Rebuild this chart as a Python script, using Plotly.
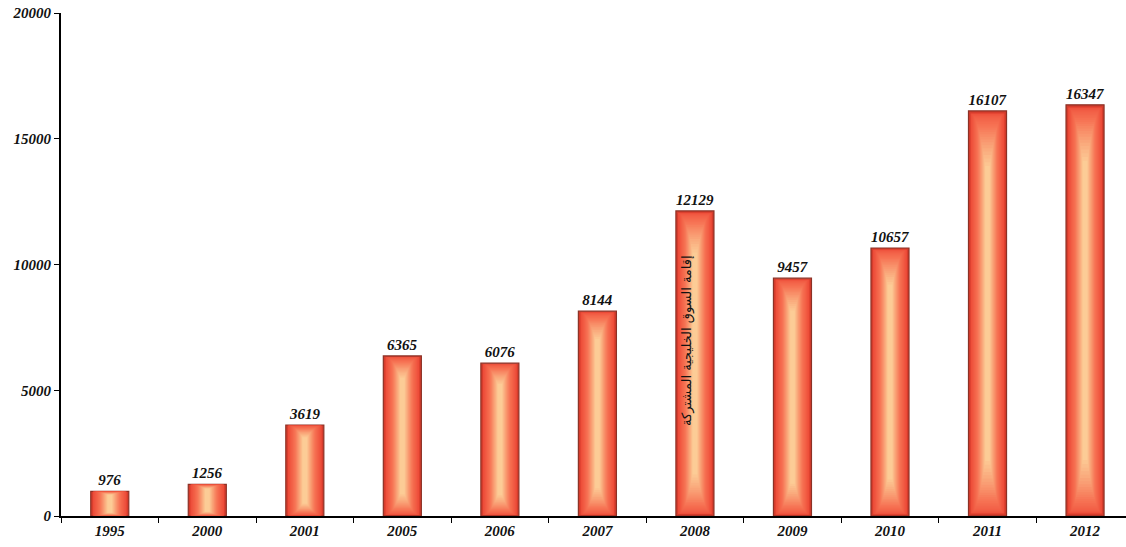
import plotly.graph_objects as go

# Yearly values
years = ["1995", "2000", "2001", "2005", "2006", "2007", "2008", "2009", "2010", "2011", "2012"]
values = [976, 1256, 3619, 6365, 6076, 8144, 12129, 9457, 10657, 16107, 16347]
y_ticks = [0, 5000, 10000, 15000, 20000]
y_tick_text = ["0", "5000", "10000", "15000", "20000"]
note_text = "إقامة السوق الخليجية المشتركة"
note_year = "2008"
note_level = 7000

serif = "Liberation Serif, Times New Roman, serif"

def mix(c1, c2, t):
    return "rgb(%d,%d,%d)" % tuple(round(a + (b - a) * t) for a, b in zip(c1, c2))

edge = (236, 72, 54)
mid = (246, 112, 82)
core = (252, 204, 150)

fig = go.Figure()

# outer bar with dark bevel outline and value labels
bar_w = 0.39
fig.add_trace(go.Bar(
    x=years, y=values, width=bar_w,
    marker=dict(color="rgb(214,60,44)", line=dict(color="rgb(140,50,38)", width=1.2)),
    text=[str(v) for v in values], textposition="outside",
    textfont=dict(family=serif, size=15, color="#111", weight="bold", style="italic"),
    cliponaxis=False, hoverinfo="skip",
))

# layered inner bars build up a soft glowing gradient toward the centre
n = 28
for i in range(1, n):
    t = i / (n - 1)
    w = bar_w * (0.92 - 0.8 * t)
    frac = 0.006 + 0.13 * t ** 2
    if t < 0.45:
        col = mix(edge, mid, t / 0.45)
    else:
        col = mix(mid, core, ((t - 0.45) / 0.55) ** 1.1)
    fig.add_trace(go.Bar(
        x=years, y=[v * (1 - 2 * frac) for v in values],
        base=[v * frac for v in values], width=w,
        marker=dict(color=col, line=dict(width=0)),
        hoverinfo="skip",
    ))

fig.update_layout(
    width=1126, height=547,
    margin=dict(l=61, r=0, t=13, b=31),
    paper_bgcolor="white", plot_bgcolor="white",
    barmode="overlay", showlegend=False,
    xaxis=dict(
        type="category", range=[-0.5, 10.42],
        showline=True, linecolor="black", linewidth=2,
        ticks="outside", tickson="boundaries", ticklen=5, tickcolor="black",
        tickfont=dict(family=serif, size=15, color="#111", weight="bold", style="italic"),
        showgrid=False, zeroline=False,
    ),
    yaxis=dict(
        range=[0, 20000], tickvals=y_ticks, ticktext=y_tick_text,
        showline=True, linecolor="black", linewidth=2,
        ticks="outside", ticklen=5, tickcolor="black",
        tickfont=dict(family=serif, size=15, color="#111", weight="bold", style="italic"),
        showgrid=False, zeroline=False,
    ),
    annotations=[dict(
        # category axes take the positional index for annotations
        x=years.index(note_year), y=note_level, xref="x", yref="y", xshift=-8,
        text=note_text, textangle=-90, showarrow=False,
        font=dict(family="DejaVu Sans, Noto Sans, sans-serif", size=13, color="#111"),
    )],
)

fig.write_html("out.html")
